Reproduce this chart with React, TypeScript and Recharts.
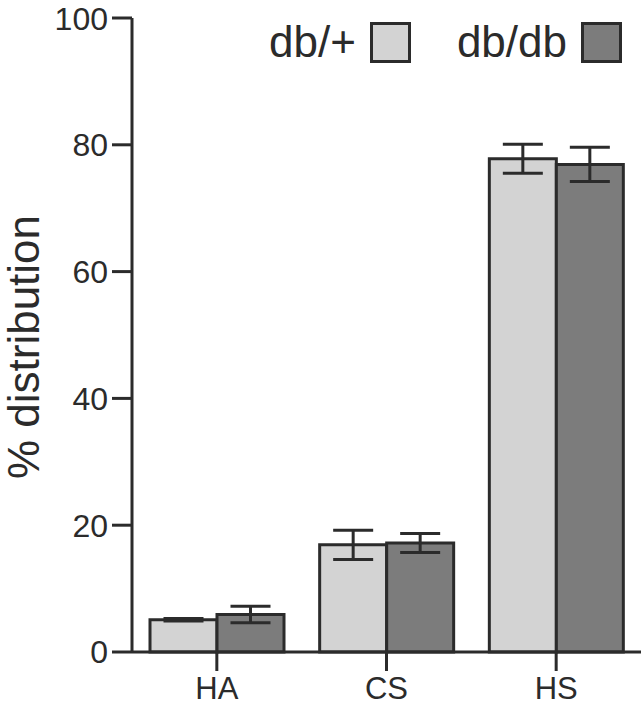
import React from "react";
import {
  Bar,
  BarChart,
  ErrorBar,
  Legend,
  XAxis,
  YAxis,
} from "recharts";

const categories = ["HA", "CS", "HS"];
const dbPlus = [5.1, 16.9, 77.8];
const dbPlusErr = [0.2, 2.3, 2.3];
const dbDb = [5.9, 17.2, 76.9];
const dbDbErr = [1.3, 1.5, 2.7];
const yTicks = [0, 20, 40, 60, 80, 100];

const data = categories.map((name, i) => ({
  name,
  dbPlus: dbPlus[i],
  dbPlusErr: dbPlusErr[i],
  dbDb: dbDb[i],
  dbDbErr: dbDbErr[i],
}));

const ink = "#2b2b2b";
const font = '"Liberation Sans", Arial, sans-serif';

function LegendBoxes({ payload }: any) {
  return (
    <div style={{ display: "flex", alignItems: "center", fontFamily: font }}>
      {(payload || []).map((item: any, i: number) => (
        <div
          key={item.value}
          style={{ display: "flex", alignItems: "center", marginLeft: i === 0 ? 0 : 46 }}
        >
          <span style={{ fontSize: 44, lineHeight: "44px", color: ink }}>{item.value}</span>
          <div
            style={{
              width: 35,
              height: 35,
              marginLeft: 14,
              background: item.color,
              border: `3px solid ${ink}`,
            }}
          />
        </div>
      ))}
    </div>
  );
}

function AxisTitle({ viewBox }: any) {
  const x = viewBox.x + 39;
  const y = viewBox.y + viewBox.height / 2 + 12;
  return (
    <text
      transform={`translate(${x},${y}) rotate(-90)`}
      textAnchor="middle"
      fill={ink}
      fontSize={44}
      fontFamily={font}
    >
      % distribution
    </text>
  );
}

export default function App() {
  return (
    <div style={{ position: "absolute", left: 0, top: 0, background: "#fff" }}>
      <BarChart
        width={644}
        height={705}
        data={data}
        margin={{ top: 18, right: 3, bottom: 0, left: 0 }}
        barGap={0}
        barCategoryGap={18}
      >
        <XAxis
          dataKey="name"
          height={53}
          tickSize={19}
          tickMargin={6}
          axisLine={{ stroke: ink, strokeWidth: 3 }}
          tickLine={{ stroke: ink, strokeWidth: 3 }}
          tick={{ fill: ink, fontSize: 31, fontFamily: font }}
        />
        <YAxis
          width={132}
          domain={[0, 100]}
          ticks={yTicks}
          tickSize={20}
          tickMargin={4}
          axisLine={{ stroke: ink, strokeWidth: 3 }}
          tickLine={{ stroke: ink, strokeWidth: 3 }}
          tick={{ fill: ink, fontSize: 32, fontFamily: font }}
          label={{ content: <AxisTitle /> }}
        />
        <Legend
          verticalAlign="middle"
          align="center"
          content={<LegendBoxes />}
          wrapperStyle={{ top: 20, right: 22, left: "auto", width: "auto" }}
        />
        <Bar
          dataKey="dbPlus"
          name="db/+"
          fill="#d3d3d3"
          stroke={ink}
          strokeWidth={3}
          isAnimationActive={false}
        >
          <ErrorBar dataKey="dbPlusErr" width={20} stroke={ink} strokeWidth={3} direction="y" />
        </Bar>
        <Bar
          dataKey="dbDb"
          name="db/db"
          fill="#7c7c7c"
          stroke={ink}
          strokeWidth={3}
          isAnimationActive={false}
        >
          <ErrorBar dataKey="dbDbErr" width={20} stroke={ink} strokeWidth={3} direction="y" />
        </Bar>
      </BarChart>
    </div>
  );
}
